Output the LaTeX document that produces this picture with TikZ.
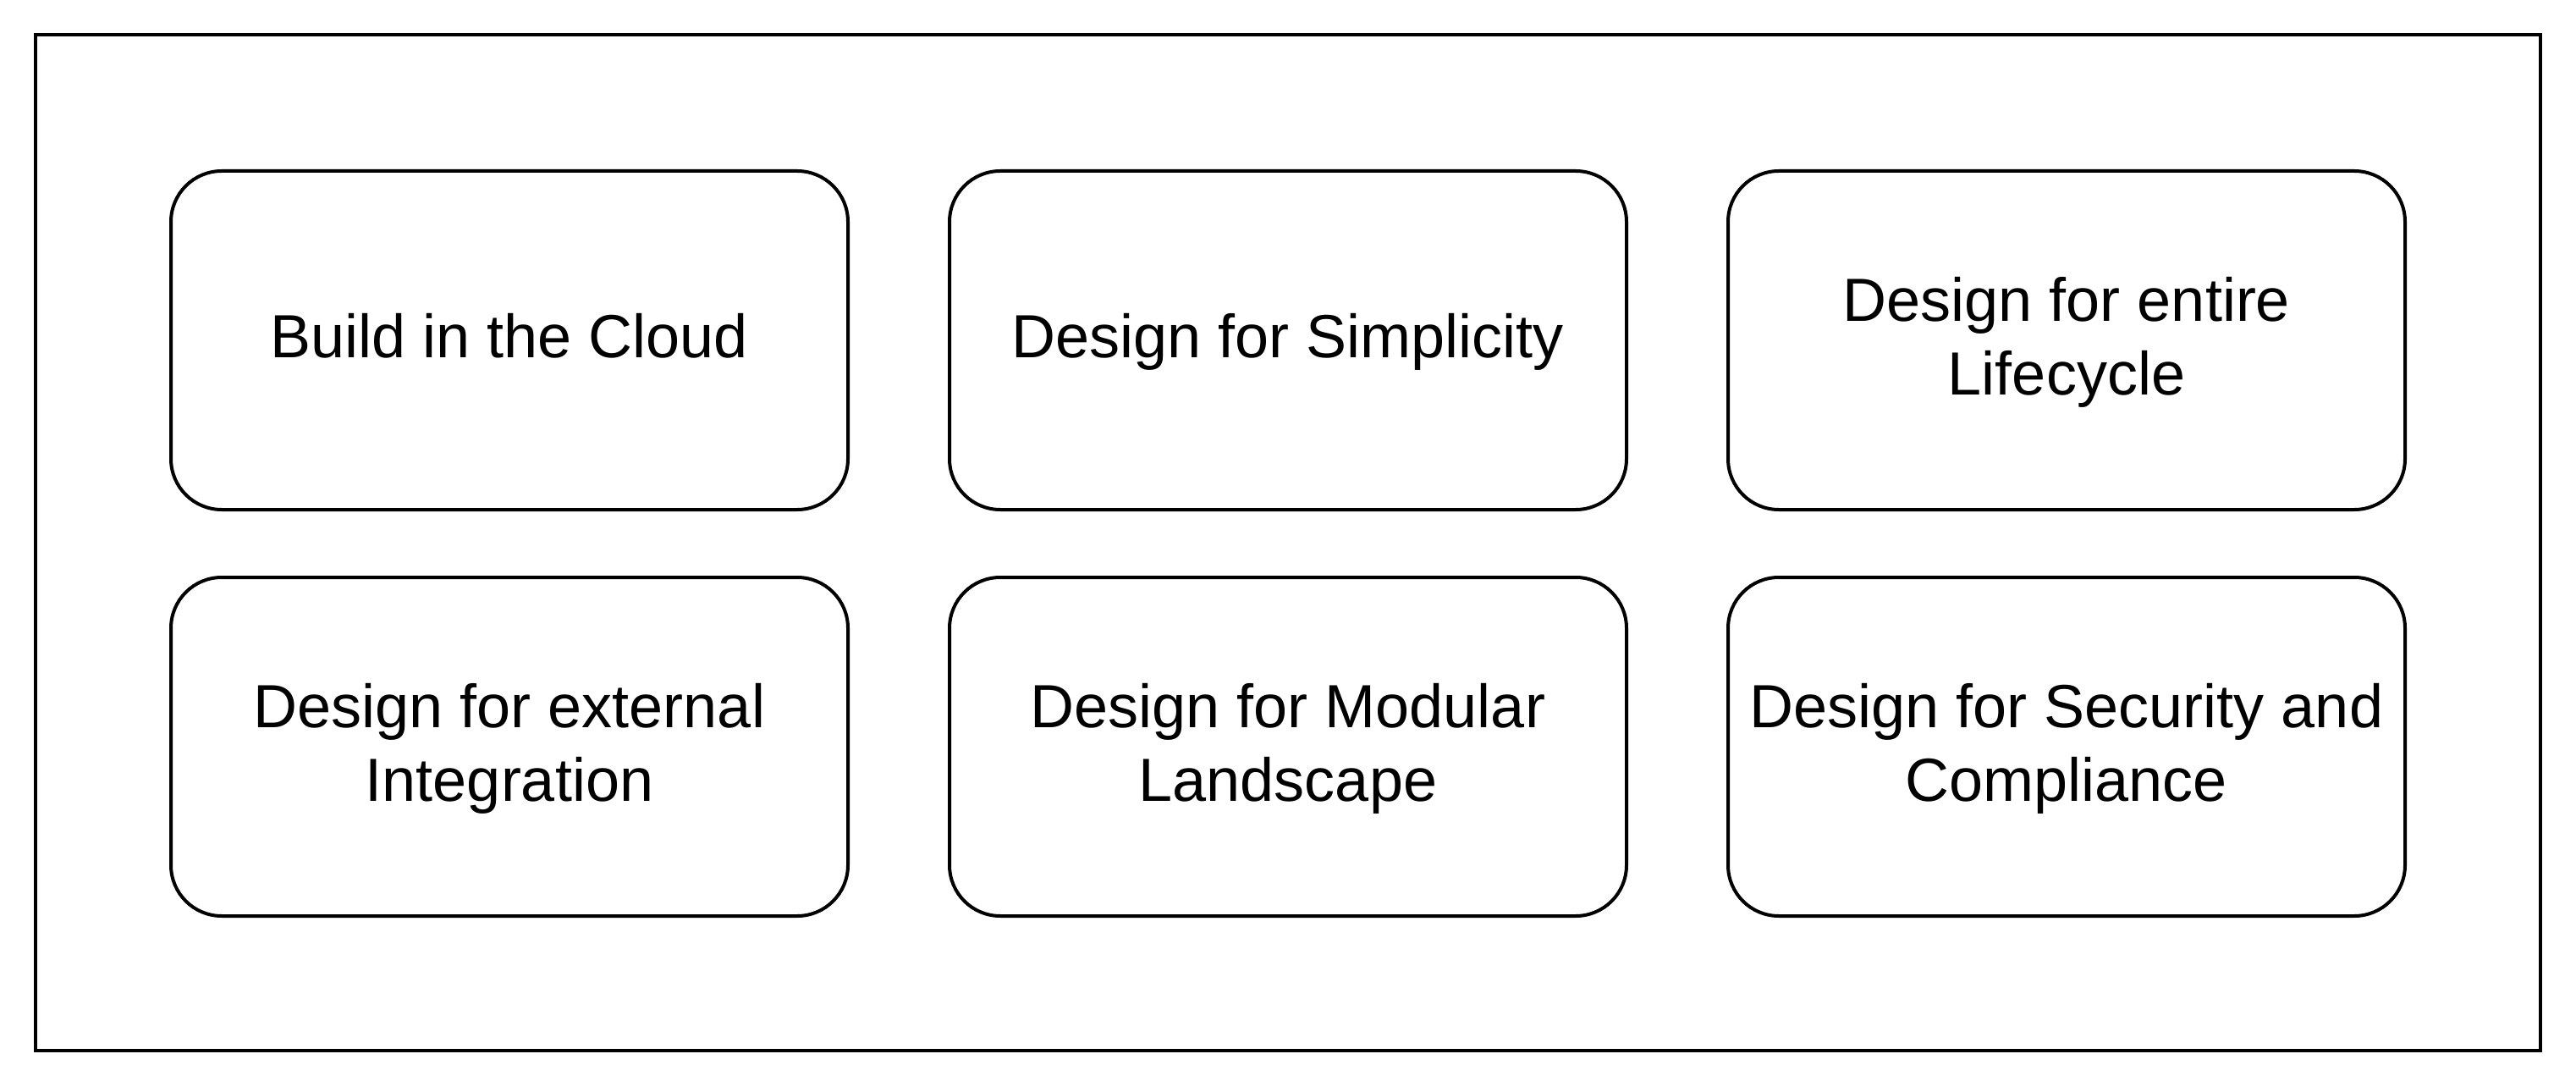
\documentclass[tikz,border=0pt]{standalone}
\usepackage{fontspec}
\setmainfont{Liberation Sans}
\newcommand{\lnstrut}{\rule[-5.56pt]{0pt}{21.6pt}}
\begin{document}
\begin{tikzpicture}[x=1pt,y=-1pt,
  principle/.style={draw=black,line width=1pt,rounded corners=15pt,minimum width=200pt,minimum height=100pt,
    inner sep=0pt,align=center,font=\fontsize{18}{21.6}\selectfont},
  frame/.style={draw=black,line width=1pt}]
\useasboundingbox (0,0) rectangle (761,321);
\node[frame,minimum width=740pt,minimum height=300pt,inner sep=0pt] (outer) at (380.5,160.25) {};
\node[principle] (cloud) at (150.5,100.5) {\lnstrut Build in the Cloud};
\node[principle] (simp) at (380.5,100.5) {\lnstrut Design for Simplicity};
\node[principle] (life) at (610.5,100.5) {\lnstrut Design for entire\\\lnstrut Lifecycle};
\node[principle] (ext) at (150.5,220.5) {\lnstrut Design for external\\\lnstrut Integration};
\node[principle] (mod) at (380.5,220.5) {\lnstrut Design for Modular\\\lnstrut Landscape};
\node[principle] (sec) at (610.5,220.5) {\lnstrut Design for Security and\\\lnstrut Compliance};
\end{tikzpicture}
\end{document}
